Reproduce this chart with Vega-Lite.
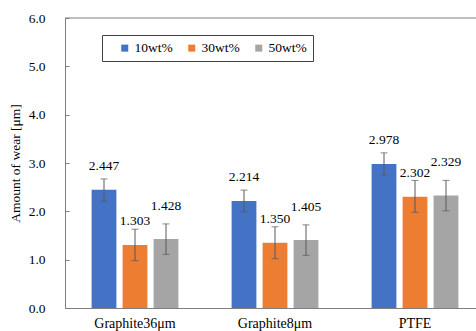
{
  "$schema": "https://vega.github.io/schema/vega-lite/v6.json",
  "width": 411,
  "height": 290,
  "autosize": {"type": "none"},
  "padding": {"left": 65, "top": 18, "right": 0, "bottom": 23},
  "background": "white",
  "config": {"view": {"stroke": null}, "font": "Liberation Serif",
    "axis": {"labelFont": "Liberation Serif", "titleFont": "Liberation Serif"},
    "legend": {"labelFont": "Liberation Serif", "titleFont": "Liberation Serif"},
    "text": {"font": "Liberation Serif"}},
  "data": {"values": [
    {"material": "Graphite36μm", "content": "10wt%", "wear": 2.447, "lo": 2.21, "hi": 2.67},
    {"material": "Graphite36μm", "content": "30wt%", "wear": 1.303, "lo": 0.98, "hi": 1.63},
    {"material": "Graphite36μm", "content": "50wt%", "wear": 1.428, "lo": 1.11, "hi": 1.74},
    {"material": "Graphite8μm", "content": "10wt%", "wear": 2.214, "lo": 1.99, "hi": 2.44},
    {"material": "Graphite8μm", "content": "30wt%", "wear": 1.35, "lo": 1.02, "hi": 1.68},
    {"material": "Graphite8μm", "content": "50wt%", "wear": 1.405, "lo": 1.09, "hi": 1.72},
    {"material": "PTFE", "content": "10wt%", "wear": 2.978, "lo": 2.75, "hi": 3.21},
    {"material": "PTFE", "content": "30wt%", "wear": 2.302, "lo": 1.98, "hi": 2.64},
    {"material": "PTFE", "content": "50wt%", "wear": 2.329, "lo": 2.01, "hi": 2.64}
  ]},
  "encoding": {
    "x": {"field": "material", "type": "nominal", "sort": null,
      "scale": {"range": [0, 420], "paddingInner": 0.38, "paddingOuter": 0.19},
      "axis": {"title": null, "labelAngle": 0, "ticks": false, "domainColor": "#7f7f7f", "labelFontSize": 14, "labelPadding": 8, "labelColor": "#000", "labelFont": "Liberation Serif"}},
    "xOffset": {"field": "content", "type": "nominal", "scale": {"paddingInner": 0.2, "paddingOuter": 0}}
  },
  "layer": [
    {
      "mark": {"type": "bar"},
      "encoding": {
        "y": {"field": "wear", "type": "quantitative",
          "scale": {"domain": [0, 6], "nice": false},
          "axis": {"title": "Amount of wear [μm]", "values": [0, 1, 2, 3, 4, 5, 6], "format": ".1f", "grid": false,
            "tickSize": -4, "tickColor": "#7f7f7f", "domainColor": "#7f7f7f", "labelFontSize": 13.5, "labelColor": "#000", "labelFont": "Liberation Serif",
            "labelPadding": 24, "titleFontSize": 13.5, "titleFontWeight": "normal", "titleColor": "#000", "titlePadding": 6, "titleFont": "Liberation Serif"}},
        "color": {"field": "content", "type": "nominal",
          "scale": {"domain": ["10wt%", "30wt%", "50wt%"], "range": ["#4472C4", "#ED7D31", "#A5A5A5"]},
          "legend": {"orient": "none", "legendX": 37, "legendY": 17, "direction": "horizontal", "title": null,
            "strokeColor": "#404040", "padding": 6, "symbolType": "square", "symbolSize": 49, "symbolStrokeWidth": 0,
            "labelFontSize": 13.5, "labelColor": "#000", "labelFont": "Liberation Serif", "columnPadding": 2, "symbolOffset": 10, "labelOffset": 3}}
      }
    },
    {
      "mark": {"type": "rule", "color": "#595959"},
      "encoding": {"y": {"field": "lo", "type": "quantitative"}, "y2": {"field": "hi"}}
    },
    {
      "mark": {"type": "tick", "color": "#595959", "size": 7, "thickness": 1},
      "encoding": {"y": {"field": "lo", "type": "quantitative"}}
    },
    {
      "mark": {"type": "tick", "color": "#595959", "size": 7, "thickness": 1},
      "encoding": {"y": {"field": "hi", "type": "quantitative"}}
    },
    {
      "transform": [{"filter": "datum.content !== '50wt%'"}],
      "mark": {"type": "text", "dy": -24, "fontSize": 13.5, "color": "#000", "baseline": "middle", "font": "Liberation Serif"},
      "encoding": {"y": {"field": "wear", "type": "quantitative"}, "text": {"field": "wear", "type": "quantitative", "format": ".3f"}}
    },
    {
      "transform": [{"filter": "datum.content === '50wt%'"}],
      "mark": {"type": "text", "dy": -33, "fontSize": 13.5, "color": "#000", "baseline": "middle", "font": "Liberation Serif"},
      "encoding": {"y": {"field": "wear", "type": "quantitative"}, "text": {"field": "wear", "type": "quantitative", "format": ".3f"}}
    },
    {
      "data": {"values": [{"top": 6}]},
      "mark": {"type": "rule", "color": "#7f7f7f"},
      "encoding": {"x": null, "xOffset": null, "y": {"field": "top", "type": "quantitative"}}
    }
  ]
}
